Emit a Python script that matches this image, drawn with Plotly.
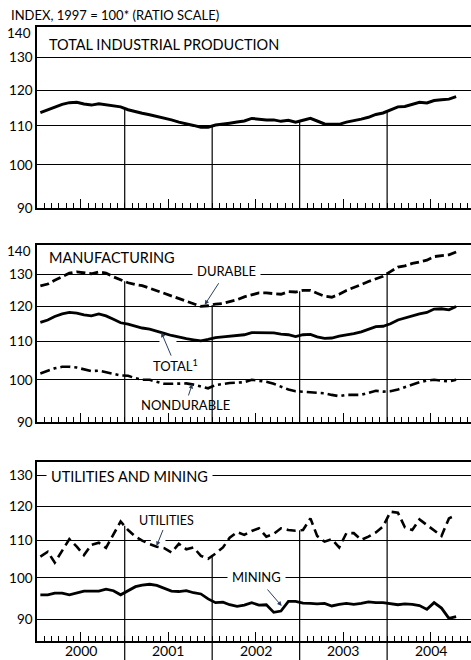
import math
import plotly.graph_objects as go

# ---------------- data (monthly, Jan 2000 - Oct 2004) ----------------
months = [f"{2000 + i // 12}-{i % 12 + 1:02d}-15" for i in range(58)]

total_ip = [113.6, 114.4, 115.1, 115.9, 116.4, 116.5, 116.0, 115.7, 116.1, 115.8, 115.5, 115.2,
            114.4, 113.8, 113.4, 113.0, 112.6, 112.0, 111.6, 111.0, 110.6, 110.1, 109.6, 109.6,
            110.2, 110.4, 110.7, 111.0, 111.3, 112.0, 111.8, 111.6, 111.6, 111.2, 111.5, 111.0,
            111.5, 112.0, 111.3, 110.5, 110.4, 110.4, 111.0, 111.3, 111.8, 112.3, 113.1, 113.5,
            114.3, 115.2, 115.3, 115.8, 116.5, 116.3, 117.0, 117.2, 117.4, 118.1]

mfg_durable = [126.4, 127.0, 128.2, 129.4, 130.5, 130.9, 130.7, 130.3, 130.9, 130.5, 129.3, 128.3,
               127.4, 126.8, 126.5, 125.7, 124.9, 124.0, 123.3, 122.3, 121.6, 120.7, 120.1, 120.3,
               120.8, 121.0, 121.5, 122.1, 123.0, 123.5, 124.2, 124.2, 124.0, 123.8, 124.6, 124.5,
               125.0, 125.0, 124.1, 123.2, 122.9, 123.8, 125.0, 125.8, 126.8, 127.8, 128.6, 129.5,
               131.0, 132.5, 132.9, 133.7, 134.2, 134.8, 136.0, 136.3, 136.6, 137.6]

mfg_total = [115.4, 116.1, 117.1, 117.9, 118.3, 118.1, 117.6, 117.3, 117.9, 117.3, 116.3, 115.3,
             114.9, 114.3, 113.8, 113.5, 113.0, 112.3, 111.7, 111.2, 110.8, 110.5, 110.2, 110.6,
             111.1, 111.3, 111.5, 111.7, 111.9, 112.5, 112.5, 112.6, 112.4, 112.1, 111.9, 111.4,
             111.9, 112.0, 111.3, 110.9, 111.0, 111.5, 111.8, 112.2, 112.7, 113.4, 114.2, 114.3,
             115.0, 116.1, 116.7, 117.2, 117.9, 118.3, 119.3, 119.4, 119.1, 120.1]

mfg_nondurable = [101.6, 102.2, 102.9, 103.3, 103.3, 103.1, 102.7, 102.2, 102.3, 102.0, 101.5, 101.1,
                  101.0, 100.4, 100.0, 100.0, 99.6, 99.0, 99.0, 99.1, 99.1, 98.8, 98.3, 97.9,
                  98.7, 99.0, 99.2, 99.3, 99.4, 100.0, 99.8, 99.5, 99.0, 98.3, 97.6, 97.2,
                  97.1, 97.0, 96.9, 96.7, 96.3, 96.0, 96.3, 96.3, 96.3, 96.8, 97.3, 97.1,
                  97.2, 97.6, 98.2, 98.8, 99.4, 99.8, 100.0, 99.8, 99.6, 100.0]

utilities = [105.6, 106.9, 104.0, 107.4, 110.4, 108.3, 106.0, 108.8, 109.4, 108.0, 111.6, 115.5,
             113.0, 111.1, 110.0, 109.0, 108.3, 107.9, 106.7, 109.1, 107.6, 108.1, 105.8, 105.0,
             106.4, 108.1, 110.8, 112.4, 111.6, 112.7, 113.5, 111.1, 111.9, 113.5, 113.0, 112.8,
             113.0, 116.4, 111.3, 109.7, 110.4, 108.1, 112.1, 112.1, 110.2, 111.1, 112.3, 114.0,
             118.4, 118.1, 113.8, 113.0, 116.1, 114.5, 113.0, 111.3, 116.4, 117.4]

mining = [95.8, 95.8, 96.2, 96.2, 95.8, 96.3, 96.7, 96.7, 96.7, 97.2, 96.8, 95.8,
          96.8, 97.8, 98.2, 98.4, 98.1, 97.4, 96.7, 96.6, 96.8, 96.3, 96.0, 94.8,
          93.9, 94.0, 93.4, 93.0, 93.3, 93.9, 93.3, 93.4, 91.6, 91.9, 94.2, 94.2,
          93.8, 93.7, 93.6, 93.7, 93.1, 93.5, 93.7, 93.5, 93.7, 94.1, 93.9, 93.9,
          93.7, 93.4, 93.6, 93.5, 93.2, 92.3, 93.9, 92.6, 90.2, 90.6]

years = ["2000", "2001", "2002", "2003", "2004"]
year_mid = [f"{y}-07-01" for y in years]
year_starts = ["2001-01-01", "2002-01-01", "2003-01-01", "2004-01-01"]
y_ticks_12 = [90, 100, 110, 120, 130]
y_ticks_3 = [90, 100, 110, 120, 130]
top_label = "140"

FONT = "Lato"
X_RANGE = ["2000-01-01", "2004-12-16"]
X_DOM = [37 / 471, 1.0]

fig = go.Figure()

def add(series, xa, ya, dash, width=2.8):
    fig.add_trace(go.Scatter(x=months, y=series, xaxis=xa, yaxis=ya, mode="lines",
                             line=dict(color="black", width=width, dash=dash),
                             hoverinfo="skip"))

add(total_ip, "x", "y", "solid", 3)
add(mfg_durable, "x2", "y2", "9px,4px", 2.8)
add(mfg_total, "x2", "y2", "solid", 2.8)
add(mfg_nondurable, "x2", "y2", "10px,4px,3px,4px", 2.6)
add(utilities, "x3", "y3", "9px,5px", 2.6)
add(mining, "x3", "y3", "solid", 2.8)

def xaxis_cfg(anchor):
    return dict(
        type="date", range=X_RANGE, domain=X_DOM, anchor=anchor,
        showgrid=False, zeroline=False,
        showline=True, mirror=True, linecolor="black", linewidth=1.5,
        ticks="inside", ticklen=9, tickwidth=1, tickcolor="black",
        tickmode="array", tickvals=year_mid, ticktext=years,
        showticklabels=False,
        minor=dict(ticks="inside", ticklen=5, tickwidth=1, tickcolor="black",
                   dtick="M1", tick0="2000-01-01", showgrid=False),
        automargin=False,
    )

def yaxis_cfg(anchor, dom, rng, vals):
    return dict(
        type="log", range=[math.log10(rng[0]), math.log10(rng[1])], domain=dom, anchor=anchor,
        tickmode="array", tickvals=vals, ticktext=[str(v) for v in vals],
        showgrid=True, gridcolor="black", gridwidth=1, zeroline=False,
        showline=True, linecolor="black", linewidth=1.5, ticks="",
        tickfont=dict(family=FONT, size=13.5, color="black"),
        automargin=False,
    )

P1 = [1 - 208 / 660, 1 - 27 / 660]
P2 = [1 - 422 / 660, 1 - 245 / 660]
P3 = [1 - 641 / 660, 1 - 462 / 660]
R1 = [90, 140]
R2 = [90, 140]
R3 = [85.15, 134.4]

fig.update_layout(
    width=471, height=660,
    margin=dict(l=0, r=0, t=0, b=0),
    paper_bgcolor="white", plot_bgcolor="white",
    showlegend=False,
    font=dict(family=FONT, color="black"),
    xaxis=xaxis_cfg("y"),
    xaxis2=xaxis_cfg("y2"),
    xaxis3=xaxis_cfg("y3"),
    yaxis=yaxis_cfg("x", P1, R1, y_ticks_12),
    yaxis2=yaxis_cfg("x2", P2, R2, y_ticks_12),
    yaxis3=yaxis_cfg("x3", P3, R3, y_ticks_3),
)

# vertical year-boundary lines from the top series down to the axis
shapes = []
for k, ys in enumerate(year_starts):
    i = 12 * (k + 1)
    for series, xr, yr, rng in [(total_ip, "x", "y", R1), (mfg_durable, "x2", "y2", R2),
                                (utilities, "x3", "y3", R3)]:
        top = (series[i - 1] + series[i]) / 2
        shapes.append(dict(type="line", xref=xr, yref=yr, x0=ys, x1=ys, y0=top, y1=rng[0],
                           line=dict(color="black", width=1.2), layer="above"))
    shapes.append(dict(type="line", xref="x3", yref="paper", x0=ys, x1=ys, y0=0, y1=P3[0],
                       line=dict(color="black", width=1.2)))

# small breaks in the gridlines where the label arrows cross them
shapes.append(dict(type="line", xref="x2", yref="y2", x0="2001-05-26", x1="2001-08-05",
                   y0=110, y1=110, line=dict(color="white", width=3), layer="between"))
shapes.append(dict(type="line", xref="x3", yref="y3", x0="2001-04-20", x1="2001-06-20",
                   y0=110, y1=110, line=dict(color="white", width=3), layer="between"))
fig.update_layout(shapes=shapes)

L = math.log10
ann = []
ann.append(dict(text="INDEX, 1997 = 100* (RATIO SCALE)", xref="paper", yref="paper",
                x=9 / 471, y=1 - 15 / 660, xanchor="left", yanchor="middle", showarrow=False,
                font=dict(family=FONT, size=13)))
# top-of-frame "140" labels, set just below the frame line as in the original
for dom in (P1, P2):
    ann.append(dict(text=top_label, xref="paper", yref="paper", x=33 / 471, y=dom[1] - 6 / 660,
                    xanchor="right", yanchor="middle", showarrow=False,
                    font=dict(family=FONT, size=13.5)))
# year labels under the bottom panel, centred in each year
for ym, yt in zip(year_mid, years):
    ann.append(dict(text=yt, xref="x3", yref="paper", x=ym, y=0, xanchor="center",
                    yanchor="bottom", borderpad=0, showarrow=False,
                    font=dict(family=FONT, size=14)))
ann.append(dict(text="TOTAL INDUSTRIAL PRODUCTION", xref="x", yref="y", x="2000-02-12", y=L(134.1),
                xanchor="left", yanchor="middle", showarrow=False, font=dict(family=FONT, size=14.5)))
ann.append(dict(text="MANUFACTURING", xref="x2", yref="y2", x="2000-02-12", y=L(135.6),
                xanchor="left", yanchor="middle", showarrow=False, font=dict(family=FONT, size=14.5)))
ann.append(dict(text="DURABLE", xref="x2", yref="y2", x="2001-12-01", y=L(120.6),
                ax=22, ay=-34, showarrow=True, arrowhead=2, arrowsize=0.9, arrowwidth=1,
                bgcolor="white", borderpad=4, font=dict(family=FONT, size=13)))
ann.append(dict(text="TOTAL<sup>1</sup>", xref="x2", yref="y2", x="2001-06-03", y=L(112.5),
                ax=14, ay=33, showarrow=True, arrowhead=2, arrowsize=0.9, arrowwidth=1,
                font=dict(family=FONT, size=13)))
ann.append(dict(text="NONDURABLE", xref="x2", yref="y2", x="2001-10-10", y=L(98.97),
                ax=-7, ay=21, showarrow=True, arrowhead=2, arrowsize=0.9, arrowwidth=1,
                font=dict(family=FONT, size=13)))
ann.append(dict(text="UTILITIES AND MINING", xref="x3", yref="y3", x="2000-02-08", y=L(129.4),
                xanchor="left", yanchor="middle", showarrow=False, bgcolor="white", borderpad=4,
                font=dict(family=FONT, size=14.5)))
ann.append(dict(text="UTILITIES", xref="x3", yref="y3", x="2001-05-14", y=L(108.5),
                ax=10, ay=-25, showarrow=True, arrowhead=2, arrowsize=0.9, arrowwidth=1,
                font=dict(family=FONT, size=12.5)))
ann.append(dict(text="MINING", xref="x3", yref="y3", x="2002-10-18", y=L(93.1),
                ax=-25, ay=-29, showarrow=True, arrowhead=2, arrowsize=0.9, arrowwidth=1,
                bgcolor="white", borderpad=4, font=dict(family=FONT, size=13)))
fig.update_layout(annotations=ann)

fig.write_html("out.html", config={"displayModeBar": False},
               post_script="document.body.style.margin='0';")
